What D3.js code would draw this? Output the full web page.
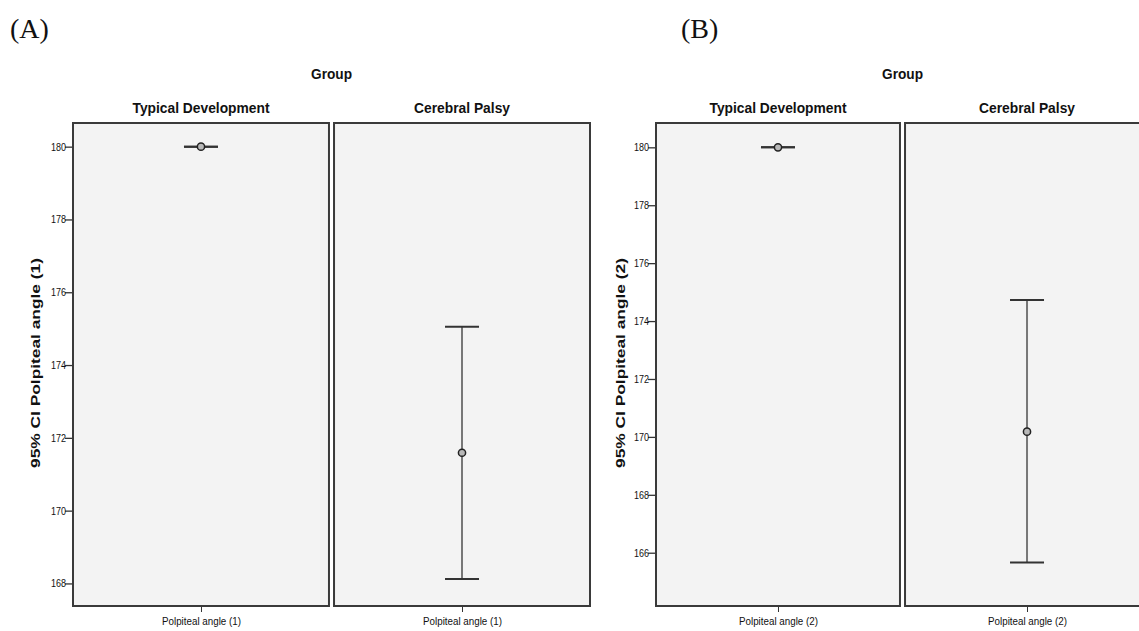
<!DOCTYPE html>
<html>
<head>
<meta charset="utf-8">
<script src="https://cdn.jsdelivr.net/npm/d3@7"></script>
<style>
  html, body { margin: 0; padding: 0; background: #fff; }
  svg { display: block; }
  .narrow { font-family: "Liberation Sans Narrow", "Arial Narrow", "Liberation Sans", Arial, sans-serif; }
</style>
</head>
<body>
<svg id="chart" width="1139" height="631"></svg>
<script>
// Group facets and their 95% confidence intervals (mean, lower, upper)
const groups = ["Typical Development", "Cerebral Palsy"];
const panelLetters = ["(A)", "(B)"];
const measures = ["Polpiteal angle (1)", "Polpiteal angle (2)"];
const yTitles = ["95% CI Polpiteal angle (1)", "95% CI Polpiteal angle (2)"];

const meansA = [180.0, 171.59];
const lowerA = [180.0, 168.12];
const upperA = [180.0, 175.05];

const meansB = [180.0, 170.18];
const lowerB = [180.0, 165.66];
const upperB = [180.0, 174.73];

const ticksA = [168, 170, 172, 174, 176, 178, 180];
const ticksB = [166, 168, 170, 172, 174, 176, 178, 180];

const domainA = [167.38, 180.65];
const domainB = [164.16, 180.84];

const svg = d3.select("#chart");

const panels = [
  { letter: panelLetters[0], measure: measures[0], yTitle: yTitles[0],
    means: meansA, lower: lowerA, upper: upperA, ticks: ticksA, domain: domainA,
    x0: 73, facetW: 256, gap: 5, letterX: 10, titleX: 35 },
  { letter: panelLetters[1], measure: measures[1], yTitle: yTitles[1],
    means: meansB, lower: lowerB, upper: upperB, ticks: ticksB, domain: domainB,
    x0: 656, facetW: 244, gap: 5, letterX: 681, titleX: 620 }
];

const plotTop = 123, plotBottom = 606;

panels.forEach(p => {
  const g = svg.append("g");
  const y = d3.scaleLinear().domain(p.domain).range([plotBottom, plotTop]);

  // facet band scale: one box per group
  const totalW = p.facetW * 2 + p.gap;
  const fx = d3.scaleBand().domain(groups).range([p.x0, p.x0 + totalW])
    .paddingInner(p.gap / (p.facetW + p.gap / 2)).paddingOuter(0);

  // panel letter
  g.append("text")
    .attr("x", p.letterX).attr("y", 38)
    .attr("font-family", "'Liberation Serif', 'Times New Roman', serif")
    .attr("font-size", 28).attr("fill", "#111")
    .text(p.letter);

  // "Group" heading centred over both facets
  g.append("text").attr("class", "narrow")
    .attr("x", p.x0 + totalW / 2).attr("y", 79)
    .attr("text-anchor", "middle").attr("font-weight", "bold").attr("font-size", 14)
    .attr("textLength", 41).attr("lengthAdjust", "spacingAndGlyphs")
    .attr("fill", "#111").text("Group");

  groups.forEach((grp, i) => {
    const bx = fx(grp), bw = fx.bandwidth();
    const cx = bx + bw / 2;

    // facet background and frame
    g.append("rect")
      .attr("x", bx).attr("y", plotTop).attr("width", bw).attr("height", plotBottom - plotTop)
      .attr("fill", "#f3f3f3").attr("stroke", "#3a3a3a").attr("stroke-width", 2);

    // facet title
    g.append("text").attr("class", "narrow")
      .attr("x", cx).attr("y", 113)
      .attr("text-anchor", "middle").attr("font-weight", "bold").attr("font-size", 15)
      .attr("textLength", i === 0 ? 137 : 96).attr("lengthAdjust", "spacingAndGlyphs")
      .attr("fill", "#111").text(grp);

    // x category tick and label
    const xs = d3.scalePoint().domain([p.measure]).range([bx, bx + bw]).padding(0.5);
    const xAxis = d3.axisBottom(xs).tickSize(5).tickSizeOuter(0);
    const ax = g.append("g").attr("transform", `translate(0,${plotBottom + 1})`).call(xAxis);
    ax.select(".domain").remove();
    ax.selectAll(".tick line").attr("stroke", "#333");
    ax.selectAll(".tick text")
      .attr("class", "narrow").attr("font-size", 11).attr("fill", "#111")
      .attr("dy", "0.95em")
      .attr("textLength", 79).attr("lengthAdjust", "spacingAndGlyphs");

    // error bar: whisker, caps and mean marker
    const mx = xs(p.measure);
    const capHalf = 17;
    g.append("line")
      .attr("x1", mx).attr("x2", mx)
      .attr("y1", y(p.upper[i])).attr("y2", y(p.lower[i]))
      .attr("stroke", "#777").attr("stroke-width", 2);
    [p.upper[i], p.lower[i]].forEach(v => {
      g.append("line")
        .attr("x1", mx - capHalf).attr("x2", mx + capHalf)
        .attr("y1", y(v)).attr("y2", y(v))
        .attr("stroke", "#333").attr("stroke-width", 2);
    });
    g.append("circle")
      .attr("cx", mx).attr("cy", y(p.means[i])).attr("r", 3.6)
      .attr("fill", "#b8b8b8").attr("stroke", "#222").attr("stroke-width", 1.5);
  });

  // y axis on the left of the first facet
  const yAxis = d3.axisLeft(y).tickValues(p.ticks).tickFormat(d3.format("d")).tickSize(7).tickSizeOuter(0);
  const ay = g.append("g").attr("transform", `translate(${p.x0 - 1},0)`).call(yAxis);
  ay.select(".domain").remove();
  ay.selectAll(".tick line").attr("stroke", "#333").attr("stroke-width", 1.3);
  ay.selectAll(".tick text")
    .attr("class", "narrow").attr("font-size", 11).attr("fill", "#111")
    .attr("x", -6).attr("textLength", 15).attr("lengthAdjust", "spacingAndGlyphs");

  // y axis title
  g.append("text")
    .attr("transform", `translate(${p.titleX},363) rotate(-90)`)
    .attr("text-anchor", "middle").attr("dy", "0.35em")
    .attr("font-family", "'Liberation Sans', Arial, sans-serif")
    .attr("font-weight", "bold").attr("font-size", 13.5)
    .attr("textLength", 210).attr("lengthAdjust", "spacingAndGlyphs")
    .attr("fill", "#111").text(p.yTitle);
});
</script>
</body>
</html>
